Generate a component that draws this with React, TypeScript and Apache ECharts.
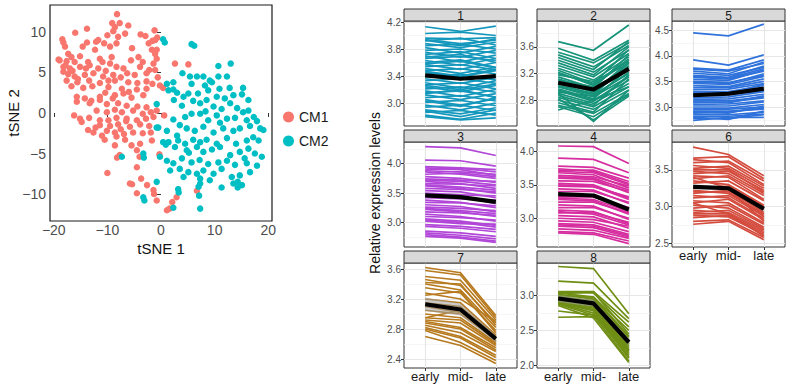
import React, { useEffect, useRef } from 'react';
import * as echarts from 'echarts';

// ---------------- DATA ----------------
const SCATTER_X_TICKS = [-20, -10, 0, 10, 20];
const SCATTER_Y_TICKS = [-10, -5, 0, 5, 10];
const CLUSTERS = ['CM1', 'CM2'];

const CM1: number[][] = [
  [-8.2, 12.2], [-9.1, 11.1], [-7.7, 11.1], [-6.1, 10.8], [-8.6, 10.6], [-8.9, 10.1], [-13.8, 10.4], [-16, 9.9], [-10, 9.6], [-6.7, 9.8], [-3.8, 9.7], [-2.9, 9.5], [-1.2, 10.2], [-0.7, 9.3],
  [-18.4, 9.1], [-18.2, 8.7], [-17.9, 8.2], [-13.8, 8.7], [-12.1, 8.8], [-11.7, 9.0], [-10.6, 8.6], [-8.3, 8.6], [-8, 9.4], [-2.3, 8.6], [-1.6, 8.9], [-1.1, 9.0],
  [-14.6, 8.2], [-12.3, 7.8], [-9.5, 8.2], [-5.4, 8.0], [-1.7, 7.8], [-0.8, 7.8], [-1.1, 7.3],
  [-17.3, 7.3], [-16.7, 6.9], [-15.1, 7.0], [-11.4, 6.7], [-9.2, 6.9], [-18.9, 6.5], [-17.6, 6.4], [-16.1, 6.3], [-13.6, 6.3], [-10.9, 6.3], [-9.5, 6.1], [-3.4, 6.3], [-0.8, 6.7], [-1.4, 6.1],
  [-18.2, 5.7], [-17, 5.5], [-15.1, 5.7], [-13.3, 5.9], [-11.7, 5.5], [-8.3, 5.7], [-7, 5.5], [-3.9, 5.7], [-2.2, 5.3],
  [-18.2, 5.1], [-17.3, 4.8], [-16.1, 4.5], [-14.2, 4.7], [-12.6, 4.9], [-10.8, 4.5], [-8.9, 4.7], [-6.3, 4.9], [-4.9, 4.7], [-2.7, 4.9], [-1.1, 5.3], [-0.6, 4.4],
  [-17.6, 4.0], [-15.6, 3.8], [-13.4, 4.0], [-11.4, 3.7], [-8.6, 4.0], [-6.1, 3.8], [-4.4, 3.7], [-2.7, 3.9], [-1.6, 3.6], [-0.2, 3.4],
  [-16.7, 3.3], [-14.5, 3.1], [-9.8, 3.2], [-7.3, 3.0], [-4.5, 2.9], [-2.7, 3.0], [0.4, 3.1],
  [-15.7, 2.0], [-14.2, 1.8], [-11.4, 2.0], [-8.6, 2.2], [-7.0, 2.4], [-5.5, 1.9], [-3.3, 2.2],
  [-15.7, 1.4], [-13.3, 1.2], [-11.4, 1.6], [-10.1, 1.1], [-8, 1.2], [-6.4, 0.9], [-4.4, 0.8], [-2.7, 0.7], [-0.8, 0.3],
  [-12, 0.3], [-10.1, 0.1], [-8.6, 0.4], [-7.3, 0.1], [-5.2, 0.3], [-3.4, -0.1], [-1.9, 0.1], [0.6, -0.3],
  [-15.1, -0.7], [-13.4, -0.6], [-11.4, -0.9], [-9.8, -0.9], [-8.3, -0.6], [-6.4, -0.7], [-4.5, -0.9], [-2.8, -0.7], [-1.4, -0.5],
  [-14.8, -1.1], [-11.4, -1.5], [-9.5, -1.6], [-8, -1.4], [-5.8, -1.7], [-3.9, -1.4], [-2.2, -1.6],
  [-13.6, -2.1], [-12.6, -2.4], [-10.1, -2.2], [-8.6, -2.4], [-6.9, -2.6], [-5.2, -2.4], [-3.4, -2.5], [-1.9, -2.4],
  [-10.5, -3.3], [-8.3, -2.9], [-6.7, -3.3], [-5.5, -4.0], [-3.9, -3.8], [-1.7, -3.4],
  [-8.6, -4.0], [-4.5, -4.6], [-7.7, -5.2], [-8.2, -5.5], [-4, -5.4], [-0.3, -5.1],
  [-4.5, -6.7], [-10, -7.4], [-3.7, -8.1], [-5.8, -8.7], [-5.4, -8.8], [-2.6, -8.9], [-4.5, -9.9], [-1.4, -9.5], [-1.3, -10], [-0.8, -10.8],
  [1.1, -12], [1.6, -11.8], [2.1, -11], [2.9, -10.4], [6.7, -9.6], [2.6, 6.1], [5.1, 6.0],
  [-19.1, 6.6], [-17.8, 5.9], [-16.5, 5.2], [-14, 5.5], [-15.5, 4.2], [-12.8, 3.3], [-10.3, 5.2], [-9.8, 4.0], [-7.5, 4.4], [-5.6, 6.5],
  [-4.2, 6.9], [-13, 1.5], [-9, 1.8], [-6.5, -1.0], [-11, -2.8], [-16.2, -0.3], [-12.2, -1.8], [-7.5, -2.0], [-10.4, 2.5], [-6.0, 2.6],
];

const CM2: number[][] = [
  [0.4, 9.1], [0.7, 8.7], [5.7, 8.5], [6.2, 8.3], [10.7, 5.8], [13, 6.1],
  [4, 4.9], [5.4, 4.5], [6.7, 4.5], [7.9, 4.5], [9.1, 4.0], [10.7, 4.5], [12.3, 4.5], [1.1, 3.6], [2.3, 3.8], [5.7, 3.6], [8.2, 3.4], [10.9, 3.0], [12.8, 3.1], [15.3, 3.1],
  [1.4, 2.8], [2.3, 2.9], [4.2, 2.0], [5.1, 2.4], [6.9, 2.4], [8.8, 2.8], [10.4, 2.0], [11.9, 1.8], [13.5, 2.2], [15.1, 2.3], [16.3, 1.6],
  [2.4, 1.6], [3.9, 0.9], [6, 1.5], [7.3, 1.2], [8.5, 1.6], [9.8, 0.8], [11.3, 0.5], [12.9, 1.2], [-0.8, 1.1], [15.3, 0.1], [16.3, 0.3], [17.3, -0.5],
  [2.3, -0.8], [4.5, -0.5], [5.7, -0.1], [7.3, -0.1], [8.8, -0.9], [10.4, -0.3], [12.3, -0.7], [13.8, -0.6], [16, -0.9], [17.9, -1.0],
  [-0.5, -1.8], [1.1, -2.2], [3.5, -1.5], [4.8, -1.9], [6.3, -2.2], [7.9, -1.7], [9.8, -2.4], [11.6, -1.9], [13.5, -2.2], [14.7, -1.9], [16.6, -1.6], [18.5, -1.9], [19.1, -2.1],
  [0.4, -3.6], [1.4, -3.6], [3.2, -3.4], [4.5, -3.8], [6, -3.3], [7.3, -3.6], [8.5, -3.3], [10.4, -3.8], [12.3, -3.1], [14, -3.8], [16, -3.4], [17.2, -3.0], [18.2, -3.4],
  [2.6, -4.2], [4.8, -4.6], [6.7, -4.2], [7.9, -4.8], [9.5, -4.5], [11, -4.2], [12.9, -5.2], [14.7, -4.8], [16.3, -4.4], [17.5, -5.0], [18.8, -5.4],
  [-0.2, -5.4], [-3.3, -5.0], [-3.2, -5.5], [-7.3, -5.4], [1.1, -5.9], [2.3, -6.2], [3.9, -5.6], [5.7, -6.1], [7.2, -5.8], [8.8, -6.3], [10.7, -6.1], [12.3, -5.9], [13.8, -6.4], [16, -6.2], [17.9, -6.5],
  [1.7, -7.1], [3.5, -6.9], [5.1, -7.3], [6.7, -7.5], [7.9, -7.1], [9.8, -7.5], [11.3, -6.9], [13.2, -7.9], [14.7, -7.7], [16.6, -7.3],
  [4.2, -7.9], [7.3, -8.1], [9.1, -8.3], [13.5, -8.7], [14.3, -8.5], [15.1, -8.9], [7.3, -8.7], [7, -9.1], [11.3, -9.2], [14.3, -9.2], [-0.8, -8.5],
  [3.2, -9.4], [3.3, -9.8], [7.1, -10.2], [7.3, -11.8], [-3.3, -10.4], [-3.1, -10.8], [2.3, -11.7], [0.9, -3.9], [-0.8, -1.8],
  [3.0, 2.5], [9.5, 3.8], [14.2, 0.6], [11.0, -1.2], [5.2, -4.9], [15.6, -5.6], [8.3, 0.2], [3.0, -2.8],
];

const X_CATS = ['early', 'mid-', 'late'];
const X_POS = [1, 2, 3];

// Facet order as drawn (row by row)
const PANEL_IDS = ['1', '2', '5', '3', '4', '6', '7', '8'];

// Each gene: [early, mid-, late]
const P1 = [
  [4.13, 4.06, 4.14], [4.03, 4.05, 4.00], [3.96, 3.95, 3.97], [3.94, 3.88, 3.93], [3.92, 3.96, 3.86],
  [3.88, 3.82, 3.90], [3.85, 3.87, 3.80], [3.82, 3.74, 3.84], [3.78, 3.80, 3.74], [3.75, 3.68, 3.78],
  [3.72, 3.76, 3.66], [3.70, 3.61, 3.71], [3.66, 3.69, 3.63], [3.63, 3.56, 3.66], [3.60, 3.64, 3.53],
  [3.57, 3.50, 3.60], [3.54, 3.57, 3.49], [3.51, 3.44, 3.53], [3.48, 3.51, 3.43], [3.45, 3.39, 3.48],
  [3.42, 3.35, 3.41], [3.39, 3.43, 3.34], [3.36, 3.29, 3.38], [3.33, 3.36, 3.29], [3.30, 3.22, 3.33],
  [3.27, 3.30, 3.21], [3.24, 3.17, 3.26], [3.21, 3.24, 3.16], [3.18, 3.10, 3.20], [3.15, 3.18, 3.09],
  [3.12, 3.05, 3.14], [3.08, 3.11, 3.03], [3.05, 2.97, 3.06], [3.01, 3.04, 2.96], [2.97, 2.90, 3.00],
  [2.94, 2.97, 2.89], [2.90, 2.84, 2.93], [2.86, 2.89, 2.82], [2.82, 2.76, 2.85], [2.80, 2.75, 2.78],
  [3.93, 3.85, 3.95], [3.68, 3.72, 3.60], [3.47, 3.40, 3.50], [3.26, 3.20, 3.28], [3.03, 2.95, 3.08],
  [2.88, 2.80, 2.90], [3.58, 3.62, 3.52], [3.14, 3.20, 3.08],
];
const P2 = [
  [3.68, 3.55, 3.93], [3.58, 3.40, 3.70], [3.52, 3.36, 3.66], [3.48, 3.30, 3.62], [3.44, 3.26, 3.68],
  [3.40, 3.22, 3.55], [3.36, 3.18, 3.60], [3.32, 3.15, 3.50], [3.28, 3.10, 3.45], [3.25, 3.05, 3.56],
  [3.22, 3.02, 3.40], [3.18, 3.08, 3.35], [3.15, 2.98, 3.48], [3.12, 2.95, 3.30], [3.10, 3.00, 3.25],
  [3.07, 2.92, 3.38], [3.05, 2.88, 3.20], [3.02, 2.90, 3.32], [3.00, 2.85, 3.15], [2.97, 2.82, 3.28],
  [2.95, 2.80, 3.10], [2.92, 2.86, 3.22], [2.90, 2.75, 3.05], [2.87, 2.72, 3.18], [2.84, 2.70, 3.00],
  [2.80, 2.66, 2.95], [2.76, 2.62, 3.12], [2.72, 2.60, 2.90], [2.70, 2.55, 2.88], [2.65, 2.80, 3.00],
  [2.82, 2.50, 2.86], [2.90, 2.48, 2.95], [3.20, 3.04, 3.42], [3.00, 2.88, 3.36], [2.94, 2.78, 3.15],
];
const P5 = [
  [4.45, 4.39, 4.62], [3.92, 3.82, 4.02], [3.76, 3.72, 3.92], [3.74, 3.70, 3.85], [3.70, 3.65, 3.88],
  [3.66, 3.62, 3.78], [3.62, 3.58, 3.80], [3.58, 3.55, 3.70], [3.54, 3.52, 3.72], [3.50, 3.48, 3.62],
  [3.46, 3.44, 3.60], [3.42, 3.40, 3.55], [3.38, 3.38, 3.50], [3.34, 3.35, 3.46], [3.30, 3.30, 3.42],
  [3.26, 3.28, 3.38], [3.22, 3.24, 3.32], [3.18, 3.20, 3.30], [3.15, 3.16, 3.25], [3.12, 3.12, 3.20],
  [3.08, 3.10, 3.18], [3.05, 3.06, 3.12], [3.02, 3.02, 3.10], [2.98, 2.98, 3.05], [2.95, 2.96, 3.00],
  [2.92, 2.92, 2.96], [2.88, 2.90, 2.98], [2.85, 2.85, 2.90], [2.82, 2.82, 2.86], [2.78, 2.78, 2.85],
  [2.74, 2.80, 2.80], [3.48, 3.46, 3.65], [3.28, 3.26, 3.45], [3.10, 3.08, 3.22], [2.90, 2.88, 3.02],
  [3.60, 3.56, 3.75], [2.80, 2.76, 2.92],
];
const P3 = [
  [4.29, 4.27, 4.14], [4.06, 4.05, 3.96], [3.95, 3.93, 3.90], [3.93, 3.90, 3.80], [3.90, 3.92, 3.86],
  [3.86, 3.82, 3.75], [3.82, 3.84, 3.78], [3.78, 3.75, 3.68], [3.74, 3.72, 3.70], [3.70, 3.66, 3.58],
  [3.66, 3.65, 3.62], [3.62, 3.58, 3.50], [3.58, 3.56, 3.52], [3.54, 3.52, 3.42], [3.50, 3.47, 3.45],
  [3.46, 3.43, 3.35], [3.42, 3.40, 3.38], [3.38, 3.34, 3.25], [3.34, 3.33, 3.28], [3.30, 3.27, 3.18],
  [3.26, 3.24, 3.20], [3.22, 3.18, 3.10], [3.18, 3.16, 3.12], [3.14, 3.10, 3.02], [3.10, 3.08, 3.04],
  [3.06, 3.02, 2.95], [3.02, 2.98, 2.97], [2.96, 2.93, 2.88], [2.93, 2.90, 2.84], [2.85, 2.82, 2.76],
  [2.82, 2.78, 2.72], [2.79, 2.75, 2.68], [2.76, 2.73, 2.66], [3.88, 3.86, 3.82], [3.64, 3.60, 3.55],
  [3.44, 3.44, 3.32], [3.24, 3.20, 3.15], [3.04, 3.00, 2.92], [3.72, 3.70, 3.64],
];
const P4 = [
  [4.08, 4.07, 3.82], [3.90, 3.88, 3.68], [3.78, 3.76, 3.60], [3.74, 3.70, 3.52], [3.72, 3.72, 3.55],
  [3.68, 3.65, 3.45], [3.64, 3.62, 3.48], [3.60, 3.58, 3.38], [3.56, 3.55, 3.40], [3.52, 3.50, 3.30],
  [3.48, 3.47, 3.32], [3.44, 3.42, 3.22], [3.40, 3.40, 3.24], [3.36, 3.34, 3.14], [3.32, 3.32, 3.16],
  [3.28, 3.26, 3.06], [3.24, 3.24, 3.08], [3.20, 3.18, 2.98], [3.16, 3.16, 3.00], [3.12, 3.10, 2.92],
  [3.08, 3.08, 2.94], [3.04, 3.02, 2.85], [3.00, 2.98, 2.88], [2.96, 2.94, 2.80], [2.92, 2.90, 2.76],
  [2.88, 2.86, 2.72], [2.84, 2.82, 2.70], [2.80, 2.78, 2.66], [2.78, 2.76, 2.62], [3.70, 3.68, 3.50],
  [3.50, 3.48, 3.28], [3.30, 3.28, 3.10], [3.10, 3.06, 2.90], [2.90, 2.88, 2.74], [3.62, 3.60, 3.42],
];
const P6 = [
  [3.81, 3.71, 3.42], [3.66, 3.68, 3.38], [3.64, 3.60, 3.30], [3.60, 3.62, 3.35], [3.56, 3.52, 3.25],
  [3.52, 3.55, 3.28], [3.48, 3.45, 3.18], [3.45, 3.48, 3.22], [3.42, 3.40, 3.10], [3.38, 3.42, 3.15],
  [3.35, 3.30, 3.02], [3.32, 3.35, 3.08], [3.28, 3.26, 2.96], [3.25, 3.28, 3.00], [3.22, 3.18, 2.90],
  [3.18, 3.22, 2.92], [3.15, 3.12, 2.84], [3.12, 3.15, 2.88], [3.08, 3.05, 2.78], [3.05, 3.10, 2.82],
  [3.02, 2.98, 2.72], [2.98, 3.02, 2.76], [2.95, 2.92, 2.68], [2.92, 2.95, 2.70], [2.88, 2.86, 2.62],
  [2.85, 2.88, 2.64], [2.80, 2.82, 2.58], [2.76, 2.80, 2.55], [3.05, 2.90, 2.60], [3.40, 3.25, 2.80],
  [3.50, 3.50, 3.20], [3.20, 3.20, 2.86], [2.90, 2.90, 2.66],
];
const P7 = [
  [3.62, 3.55, 2.98], [3.58, 3.52, 2.95], [3.50, 3.45, 2.92], [3.46, 3.38, 2.88], [3.42, 3.40, 2.85],
  [3.40, 3.32, 2.82], [3.35, 3.28, 2.78], [3.28, 3.20, 2.90], [3.25, 3.30, 2.75], [3.20, 3.15, 2.72],
  [3.15, 3.10, 2.70], [3.10, 3.02, 2.68], [3.05, 3.00, 2.66], [3.00, 2.95, 2.62], [2.95, 2.92, 2.60],
  [2.92, 2.88, 2.58], [2.90, 2.82, 2.55], [2.88, 2.80, 2.52], [2.85, 2.75, 2.50], [2.82, 2.70, 2.45],
  [2.80, 2.68, 2.42], [2.78, 2.62, 2.38], [2.70, 2.58, 2.34], [2.95, 3.05, 2.64],
];
const P8 = [
  [3.42, 3.39, 2.74], [3.21, 3.18, 2.67], [3.06, 3.06, 2.62], [3.05, 3.04, 2.55], [3.04, 2.98, 2.50],
  [3.03, 3.05, 2.45], [3.02, 2.95, 2.40], [3.00, 2.98, 2.42], [2.99, 2.92, 2.36], [2.98, 2.90, 2.32],
  [2.97, 2.93, 2.30], [2.96, 2.88, 2.28], [2.95, 2.86, 2.25], [2.94, 2.84, 2.22], [2.93, 2.88, 2.20],
  [2.92, 2.82, 2.18], [2.91, 2.80, 2.15], [2.90, 2.78, 2.12], [2.89, 2.75, 2.10], [2.88, 2.72, 2.06],
  [2.78, 2.72, 2.22], [2.69, 2.70, 2.30], [2.86, 2.68, 2.04], [2.95, 2.91, 2.35],
];
const GENES = [P1, P2, P5, P3, P4, P6, P7, P8];

const MEANS = [
  [3.41, 3.36, 3.40], [3.06, 2.96, 3.27], [3.23, 3.26, 3.36], [3.46, 3.43, 3.35],
  [3.36, 3.34, 3.13], [3.27, 3.25, 2.97], [3.13, 3.06, 2.67], [2.96, 2.89, 2.33],
];
const MEAN_SE = [
  [0.02, 0.02, 0.02], [0.03, 0.03, 0.03], [0.02, 0.02, 0.02], [0.02, 0.02, 0.02],
  [0.02, 0.02, 0.02], [0.03, 0.03, 0.03], [0.09, 0.08, 0.05], [0.05, 0.05, 0.05],
];

const Y_TICKS = [
  [3.0, 3.4, 3.8, 4.2], [2.8, 3.2, 3.6], [3.0, 3.5, 4.0, 4.5], [3.0, 3.5, 4.0],
  [3.0, 3.5, 4.0], [2.5, 3.0, 3.5], [2.4, 2.8, 3.2, 3.6], [2.0, 2.5, 3.0],
];
const Y_MINOR = [
  [2.8, 3.2, 3.6, 4.0], [2.6, 3.0, 3.4, 3.8], [2.75, 3.25, 3.75, 4.25], [2.75, 3.25, 3.75, 4.25],
  [2.75, 3.25, 3.75], [2.75, 3.25, 3.75], [2.6, 3.0, 3.4], [2.25, 2.75, 3.25],
];
const Y_LIMITS = [
  [2.66, 4.215], [2.41, 3.99], [2.63, 4.68], [2.58, 4.37],
  [2.57, 4.14], [2.45, 3.88], [2.28, 3.68], [1.96, 3.47],
];

// ---------------- STYLE / LAYOUT ----------------
const COLORS = ['#1497bc', '#17937a', '#2f72db', '#b146d8', '#d62d9f', '#d44c3e', '#b77a1f', '#6f8e14'];
const SCATTER_COLORS = ['#F8766D', '#00BFC4'];
const FONT = "'Liberation Sans', Arial, Helvetica, sans-serif";
const COL_X = [404, 537, 672];
const ROW_Y = [21, 142, 263];
const PW = 113;
const PH = 105;
const STRIP_H = 12;
const SHOW_X = [false, false, false, false, false, true, true, true];

function buildOption() {
  const grids: any[] = [
    { left: 50, top: 5, width: 222, height: 216, show: true, borderColor: '#1a1a1a', borderWidth: 1.2, backgroundColor: '#fff' },
  ];
  const xAxes: any[] = [
    {
      type: 'value', gridIndex: 0, min: -20.7, max: 20.7,
      axisLine: { show: false }, splitLine: { show: false },
      axisTick: { customValues: SCATTER_X_TICKS, length: 4, lineStyle: { color: '#333' } },
      axisLabel: {
        customValues: SCATTER_X_TICKS, fontSize: 14, color: '#4d4d4d', margin: 2, fontFamily: FONT,
        formatter: (v: number) => String(v).replace('-', '\u2212'),
      },
    },
  ];
  const yAxes: any[] = [
    {
      type: 'value', gridIndex: 0, min: -13.33, max: 13.33,
      axisLine: { show: false }, splitLine: { show: false },
      axisTick: { customValues: SCATTER_Y_TICKS, length: 4, lineStyle: { color: '#333' } },
      axisLabel: {
        customValues: SCATTER_Y_TICKS, fontSize: 14, color: '#4d4d4d', margin: 4, fontFamily: FONT,
        formatter: (v: number) => String(v).replace('-', '\u2212'),
      },
    },
  ];
  const series: any[] = [
    { type: 'scatter', name: CLUSTERS[0], xAxisIndex: 0, yAxisIndex: 0, data: CM1, symbolSize: 6.5, itemStyle: { color: SCATTER_COLORS[0], opacity: 1 }, z: 2 },
    { type: 'scatter', name: CLUSTERS[1], xAxisIndex: 0, yAxisIndex: 0, data: CM2, symbolSize: 6.5, itemStyle: { color: SCATTER_COLORS[1], opacity: 1 }, z: 2 },
  ];
  const graphic: any[] = [
    { type: 'text', x: 161, y: 248, style: { text: 'tSNE 1', fontSize: 15, fontFamily: FONT, fill: '#111', textAlign: 'center', textVerticalAlign: 'middle' } },
    { type: 'text', x: 13, y: 113, rotation: Math.PI / 2, style: { text: 'tSNE 2', fontSize: 15, fontFamily: FONT, fill: '#111', textAlign: 'center', textVerticalAlign: 'middle' } },
    { type: 'text', x: 375, y: 193, rotation: Math.PI / 2, style: { text: 'Relative expression levels', fontSize: 14, fontFamily: FONT, fill: '#111', textAlign: 'center', textVerticalAlign: 'middle' } },
  ];

  PANEL_IDS.forEach((id, i) => {
    const gi = i + 1;
    const col = i % 3;
    const row = Math.floor(i / 3);
    const left = COL_X[col];
    const top = ROW_Y[row];
    grids.push({ left, top, width: PW, height: PH, show: true, borderColor: '#333', borderWidth: 1, backgroundColor: '#fff' });
    const showX = SHOW_X[i];
    xAxes.push({
      type: 'value', gridIndex: gi, min: 0.4, max: 3.6,
      axisLine: { show: false }, splitLine: { show: false },
      axisTick: { show: showX, customValues: X_POS, length: 3, lineStyle: { color: '#333' } },
      axisLabel: {
        show: showX, customValues: X_POS, fontSize: 13, color: '#1a1a1a', margin: 2, fontFamily: FONT,
        formatter: (v: number) => X_CATS[Math.round(v) - 1] ?? '',
      },
    });
    const ticks = Y_TICKS[i];
    yAxes.push({
      type: 'value', gridIndex: gi, min: Y_LIMITS[i][0], max: Y_LIMITS[i][1],
      axisLine: { show: false }, splitLine: { show: false },
      axisTick: { customValues: ticks, length: 3, lineStyle: { color: '#333' } },
      axisLabel: {
        customValues: ticks, fontSize: 10, color: '#4d4d4d', margin: 3, fontFamily: FONT,
        formatter: (v: number) => v.toFixed(1),
      },
    });
    const mean = MEANS[i];
    const meanData = X_POS.map((x, k) => [x, mean[k]]);
    // grid lines
    series.push({
      type: 'line', xAxisIndex: gi, yAxisIndex: gi, data: meanData, symbol: 'none', silent: true,
      lineStyle: { opacity: 0 }, z: 1,
      markLine: {
        silent: true, symbol: 'none', label: { show: false }, emphasis: { disabled: true }, z: 1,
        lineStyle: { type: 'solid', color: '#ebebeb', width: 1.1 },
        data: [
          ...ticks.map((v) => ({ yAxis: v, lineStyle: { type: 'solid', color: '#e6e6e6', width: 1.1 } })),
          ...Y_MINOR[i].map((v) => ({ yAxis: v, lineStyle: { type: 'solid', color: '#f0f0f0', width: 0.6 } })),
          ...X_POS.map((v) => ({ xAxis: v, lineStyle: { type: 'solid', color: '#e6e6e6', width: 1.1 } })),
        ],
      },
    });
    // individual genes
    series.push({
      type: 'lines', coordinateSystem: 'cartesian2d', xAxisIndex: gi, yAxisIndex: gi, polyline: true, silent: true,
      data: GENES[i].map((g) => ({ coords: X_POS.map((x, k) => [x, g[k]]) })),
      lineStyle: { color: COLORS[i], width: 1.7, opacity: 1 }, z: 3,
    });
    // standard-error ribbon
    const se = MEAN_SE[i];
    series.push({
      type: 'custom', xAxisIndex: gi, yAxisIndex: gi, silent: true, z: 4,
      data: [[1, mean[0]]],
      renderItem: (_p: any, api: any) => {
        const upper = X_POS.map((x, k) => api.coord([x, mean[k] + se[k]]));
        const lower = X_POS.map((x, k) => api.coord([x, mean[k] - se[k]])).reverse();
        return { type: 'polygon', shape: { points: [...upper, ...lower] }, style: { fill: 'rgba(160,160,160,0.55)' } };
      },
    });
    // mean line
    series.push({
      type: 'line', xAxisIndex: gi, yAxisIndex: gi, data: meanData, symbol: 'none', silent: true,
      lineStyle: { color: '#000', width: 4.2 }, z: 5,
    });
    // strip
    graphic.push({
      type: 'rect', shape: { x: left, y: top - STRIP_H, width: PW, height: STRIP_H },
      style: { fill: '#d9d9d9', stroke: '#333', lineWidth: 1 }, z: 10,
    });
    graphic.push({
      type: 'text', x: left + PW / 2, y: top - STRIP_H / 2 + 0.5, z: 11,
      style: { text: id, fontSize: 12, fontFamily: FONT, fill: '#1a1a1a', textAlign: 'center', textVerticalAlign: 'middle' },
    });
  });

  return {
    animation: false,
    backgroundColor: '#fff',
    grid: grids,
    xAxis: xAxes,
    yAxis: yAxes,
    legend: {
      data: CLUSTERS, orient: 'vertical', left: 278, top: 105, icon: 'circle',
      itemWidth: 11, itemHeight: 11, itemGap: 10, selectedMode: false,
      textStyle: { fontSize: 14, color: '#1a1a1a', fontFamily: FONT },
    },
    series,
    graphic,
  };
}

export default function App() {
  const ref = useRef<HTMLDivElement>(null);
  useEffect(() => {
    const chart = echarts.init(ref.current!, null, { renderer: 'svg' });
    chart.setOption(buildOption());
    return () => chart.dispose();
  }, []);
  return (
    <div
      ref={ref}
      style={{ position: 'fixed', left: 0, top: 0, width: 794, height: 391, background: '#fff' }}
    />
  );
}
